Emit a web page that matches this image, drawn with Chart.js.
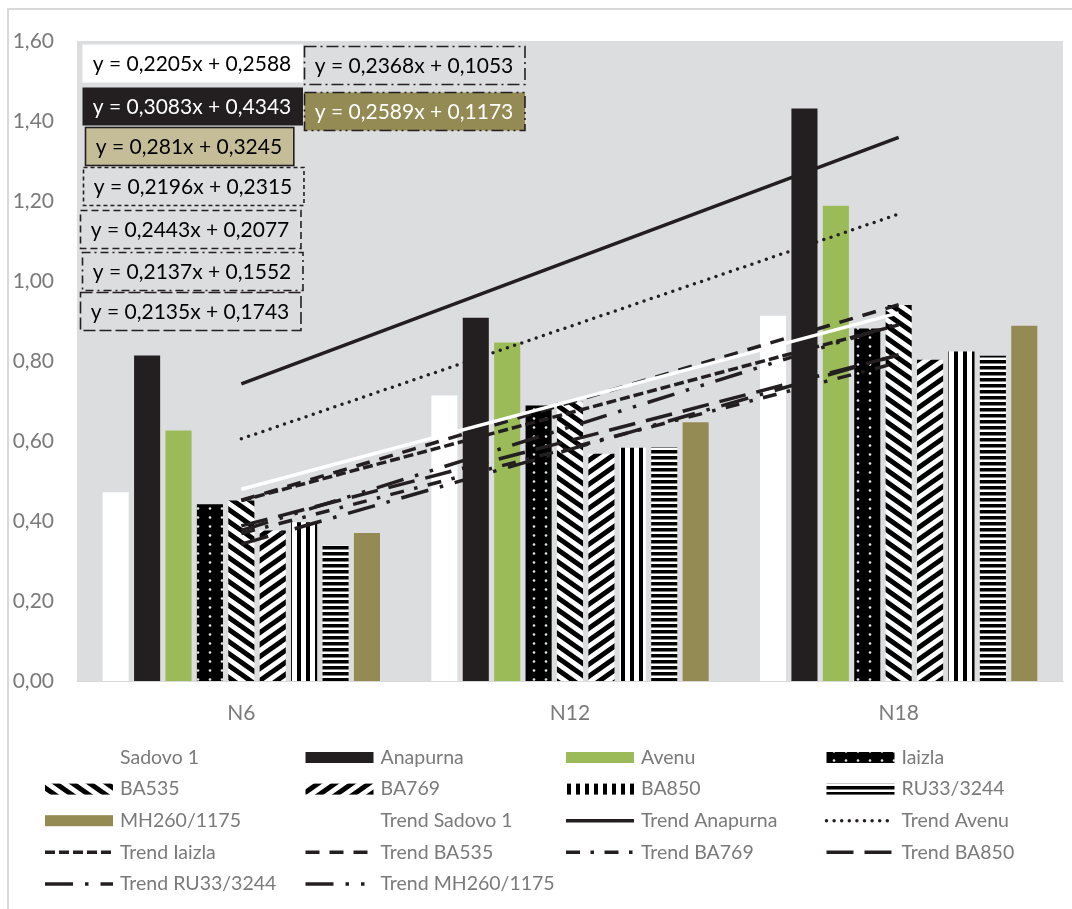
<!DOCTYPE html>
<html>
<head>
<meta charset="utf-8">
<script src="https://cdn.jsdelivr.net/npm/chart.js@4.4.1/dist/chart.umd.min.js"></script>
<style>
  html, body { margin: 0; padding: 0; background: #fff; }
  canvas { display: block; }
</style>
</head>
<body>
<canvas id="chart" width="1072" height="909"></canvas>
<script>
// DATA
const categories = ['N6', 'N12', 'N18'];
const seriesNames = ['Sadovo 1', 'Anapurna', 'Avenu', 'Iaizla', 'BA535', 'BA769', 'BA850', 'RU33/3244', 'MH260/1175'];

const sadovo   = [0.472, 0.714, 0.913];
const anapurna = [0.814, 0.908, 1.431];
const avenu    = [0.626, 0.846, 1.188];
const iaizla   = [0.442, 0.689, 0.881];
const ba535    = [0.451, 0.698, 0.940];
const ba769    = [0.376, 0.568, 0.803];
const ba850    = [0.397, 0.583, 0.824];
const ru33     = [0.339, 0.585, 0.813];
const mh260    = [0.370, 0.647, 0.888];
const seriesValues = [sadovo, anapurna, avenu, iaizla, ba535, ba769, ba850, ru33, mh260];

// linear trendline equations as printed on the chart (y = slope*x + intercept, x = 1..3)
const trendSlopes     = [0.2205, 0.3083, 0.281, 0.2196, 0.2443, 0.2137, 0.2135, 0.2368, 0.2589];
const trendIntercepts = [0.2588, 0.4343, 0.3245, 0.2315, 0.2077, 0.1552, 0.1743, 0.1053, 0.1173];

const yTicks = [0, 0.2, 0.4, 0.6, 0.8, 1.0, 1.2, 1.4, 1.6];

const FONT = 'Lato';
const TEXT_GRAY = '#7a7a7a';
const INK = '#231f20';

// PATTERNS
const canvas = document.getElementById('chart');
const ctx = canvas.getContext('2d');

function makePattern(w, h, draw) {
  const c = document.createElement('canvas');
  c.width = w; c.height = h;
  const g = c.getContext('2d');
  draw(g, w, h);
  return ctx.createPattern(c, 'repeat');
}

const dotsPattern = makePattern(12, 9, (g, w, h) => {
  g.fillStyle = '#000'; g.fillRect(0, 0, w, h);
  g.fillStyle = '#e8e8e8';
  g.beginPath(); g.arc(6, 4.5, 1.3, 0, Math.PI * 2); g.fill();
});
const diagDownPattern = makePattern(17, 12, (g, w, h) => {
  g.fillStyle = '#fff'; g.fillRect(0, 0, w, h);
  g.strokeStyle = '#000'; g.lineWidth = 5;
  for (const dx of [-w, 0, w]) {
    g.beginPath(); g.moveTo(dx - w, -h); g.lineTo(dx + 2 * w, 2 * h); g.stroke();
  }
});
const diagUpPattern = makePattern(17, 12, (g, w, h) => {
  g.fillStyle = '#fff'; g.fillRect(0, 0, w, h);
  g.strokeStyle = '#000'; g.lineWidth = 5;
  for (const dx of [-w, 0, w]) {
    g.beginPath(); g.moveTo(dx - w, 2 * h); g.lineTo(dx + 2 * w, -h); g.stroke();
  }
});
const vStripePattern = makePattern(9, 2, (g, w, h) => {
  g.fillStyle = '#fff'; g.fillRect(0, 0, w, h);
  g.fillStyle = '#000'; g.fillRect(0, 0, 4, h);
});
const hStripePattern = makePattern(2, 6, (g, w, h) => {
  g.fillStyle = '#fff'; g.fillRect(0, 0, w, h);
  g.fillStyle = '#000'; g.fillRect(0, 0, w, 3.5);
});

const barFills = ['#ffffff', INK, '#9bbb59', dotsPattern, diagDownPattern, diagUpPattern, vStripePattern, hStripePattern, '#948a54'];

const trendStyles = [
  { color: '#ffffff', dash: [] },
  { color: INK, dash: [] },
  { color: INK, dash: [0, 7.6], cap: 'round' },
  { color: INK, dash: [10, 4] },
  { color: INK, dash: [14, 10] },
  { color: INK, dash: [14, 10.5, 3.5, 10.5] },
  { color: INK, dash: [27, 11] },
  { color: INK, dash: [28, 12, 3.5, 12] },
  { color: INK, dash: [28, 12, 3.5, 12, 3.5, 12] }
];

// equation label boxes (placement as in the original)
const eqBoxes = [
  { cx: 192, top: 44,  fill: '#ffffff', text: '#000', border: null },
  { cx: 192, top: 87,  fill: INK,       text: '#fff', border: null },
  { cx: 189, top: 127, fill: '#c4bd97', text: '#000', border: [] },
  { cx: 193, top: 167, fill: null,      text: '#000', border: [4, 3] },
  { cx: 190, top: 210, fill: null,      text: '#000', border: [7, 4] },
  { cx: 192, top: 252, fill: null,      text: '#000', border: [8, 4, 2, 4] },
  { cx: 190, top: 292, fill: null,      text: '#000', border: [12, 4] },
  { cx: 414, top: 46,  fill: null,      text: '#000', border: [12, 4, 2, 4] },
  { cx: 414, top: 92,  fill: '#948a54', text: '#fff', border: [12, 4, 2, 4, 2, 4] }
];

const fmt = v => String(v).replace('.', ',');

// DATASETS
const datasets = [];
seriesNames.forEach((name, i) => {
  datasets.push({
    type: 'bar',
    label: name,
    data: seriesValues[i],
    backgroundColor: barFills[i],
    borderWidth: 0,
    order: 2,
    categoryPercentage: 0.86,
    barPercentage: 0.83
  });
});
seriesNames.forEach((name, i) => {
  const st = trendStyles[i];
  datasets.push({
    type: 'line',
    label: 'Trend ' + name,
    data: categories.map((c, k) => trendSlopes[i] * (k + 1) + trendIntercepts[i]),
    borderColor: st.color,
    borderWidth: 3.5,
    borderDash: st.dash,
    borderCapStyle: st.cap || 'butt',
    pointRadius: 0,
    fill: false,
    tension: 0,
    order: 1
  });
});

// PLUGINS
const backdrop = {
  id: 'backdrop',
  beforeDraw(chart) {
    const c = chart.ctx, a = chart.chartArea;
    c.save();
    c.fillStyle = '#fff';
    c.fillRect(0, 0, chart.width, chart.height);
    c.strokeStyle = '#d9d9d9';
    c.lineWidth = 2;
    c.strokeRect(8, 9, chart.width + 20, chart.height + 20);
    c.fillStyle = '#dcdddf';
    c.fillRect(a.left, a.top, a.right - a.left, a.bottom - a.top);
    c.restore();
  }
};

const equations = {
  id: 'equations',
  afterDatasetsDraw(chart) {
    const c = chart.ctx;
    c.save();
    c.font = '21px ' + FONT;
    c.textBaseline = 'middle';
    c.textAlign = 'center';
    eqBoxes.forEach((b, i) => {
      const txt = 'y = ' + fmt(trendSlopes[i]) + 'x + ' + fmt(trendIntercepts[i]);
      const w = c.measureText(txt).width + 22;
      const h = 38;
      const x = Math.round(b.cx - w / 2) + 0.5;
      const y = b.top + 0.5;
      if (b.fill) {
        c.fillStyle = b.fill;
        c.fillRect(x, y, w, h);
      }
      if (b.border) {
        c.strokeStyle = INK;
        c.lineWidth = 1.6;
        c.setLineDash(b.border);
        c.strokeRect(x, y, w, h);
        c.setLineDash([]);
      }
      c.fillStyle = b.text;
      c.fillText(txt, b.cx, b.top + h / 2 + 1);
    });
    c.restore();
  }
};

const gridLegend = {
  id: 'gridLegend',
  afterDraw(chart) {
    const c = chart.ctx;
    c.save();
    c.font = '19.5px ' + FONT;
    c.textBaseline = 'middle';
    c.textAlign = 'left';
    chart.data.datasets.forEach((ds, i) => {
      const col = i % 4, row = Math.floor(i / 4);
      const x = 45 + col * 260.5;
      const y = 757.5 + row * 31.6;
      if (ds.type === 'bar') {
        c.fillStyle = ds.backgroundColor;
        c.fillRect(x, y - 5.5, 68, 11);
      } else {
        c.strokeStyle = ds.borderColor;
        c.lineWidth = 3.5;
        c.lineCap = ds.borderCapStyle;
        c.setLineDash(ds.borderDash);
        c.beginPath();
        c.moveTo(x, y);
        c.lineTo(x + 68, y);
        c.stroke();
        c.setLineDash([]);
      }
      c.fillStyle = TEXT_GRAY;
      c.fillText(ds.label, x + 75, y);
    });
    c.restore();
  }
};

new Chart(ctx, {
  data: { labels: categories, datasets: datasets },
  options: {
    responsive: false,
    animation: false,
    devicePixelRatio: 1,
    layout: { padding: { left: 0, right: 9, top: 41, bottom: 0 } },
    plugins: {
      legend: { display: false },
      tooltip: { enabled: false }
    },
    scales: {
      x: {
        grid: { display: false, drawTicks: false },
        border: { display: true, color: '#d9d9d9', width: 1 },
        ticks: { color: TEXT_GRAY, font: { family: FONT, size: 21 }, padding: 20 },
        afterFit(scale) { scale.height = 228; }
      },
      y: {
        min: 0,
        max: 1.6,
        grid: { display: false, drawTicks: false },
        border: { display: false },
        afterBuildTicks(scale) { scale.ticks = yTicks.map(v => ({ value: v })); },
        ticks: {
          color: TEXT_GRAY,
          font: { family: FONT, size: 21 },
          padding: 23,
          callback: v => v.toFixed(2).replace('.', ',')
        },
        afterFit(scale) { scale.width = 77; }
      }
    }
  },
  plugins: [backdrop, equations, gridLegend]
});
</script>
</body>
</html>
